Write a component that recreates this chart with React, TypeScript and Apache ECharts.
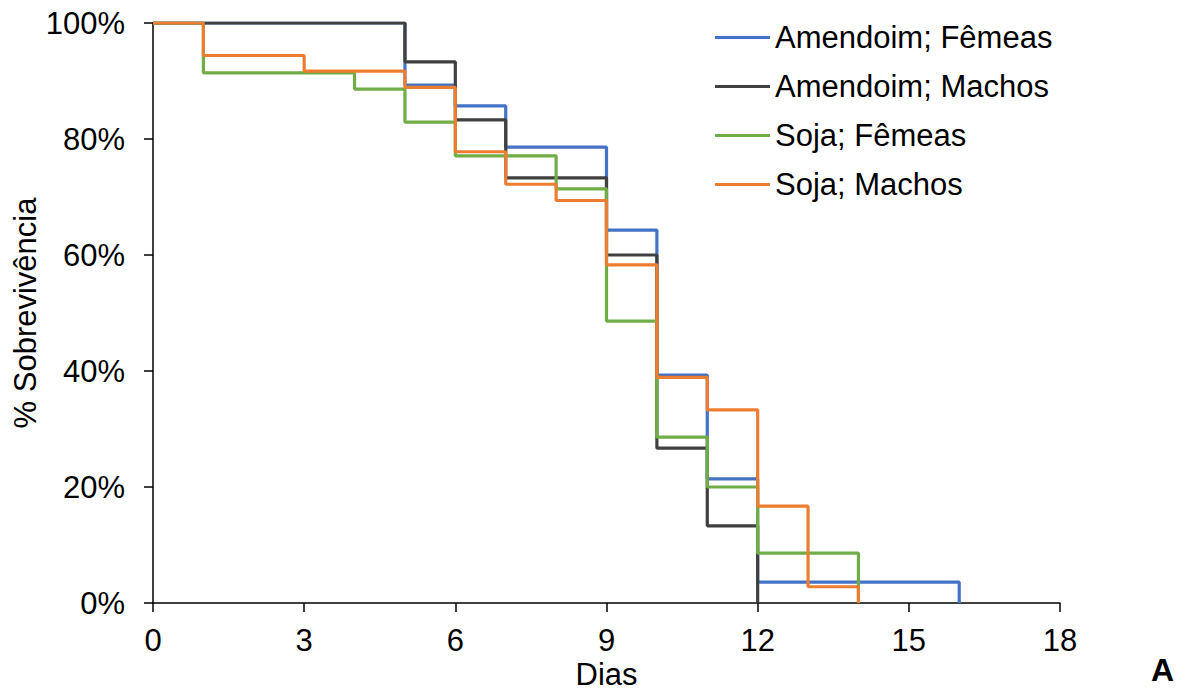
import React, { useEffect, useRef } from "react";
import * as echarts from "echarts";

const seriesNames = ["Amendoim; Fêmeas", "Amendoim; Machos", "Soja; Fêmeas", "Soja; Machos"];
const seriesColors = ["#4472C4", "#404040", "#70AD47", "#ED7D31"];

const amendoimFemeasDays = [0, 5, 6, 7, 9, 10, 11, 12, 16];
const amendoimFemeasValues = [100, 89.3, 85.7, 78.6, 64.3, 39.3, 21.4, 3.6, 0];

const amendoimMachosDays = [0, 5, 6, 7, 9, 10, 11, 12];
const amendoimMachosValues = [100, 93.3, 83.3, 73.3, 60, 26.7, 13.3, 0];

const sojaFemeasDays = [0, 1, 4, 5, 6, 8, 9, 10, 11, 12, 14];
const sojaFemeasValues = [100, 91.4, 88.6, 82.9, 77.1, 71.4, 48.6, 28.6, 20, 8.6, 0];

const sojaMachosDays = [0, 1, 3, 5, 6, 7, 8, 9, 10, 11, 12, 13, 14];
const sojaMachosValues = [100, 94.4, 91.7, 88.9, 77.8, 72.2, 69.4, 58.3, 38.9, 33.3, 16.7, 2.8, 0];

const xTicks = [0, 3, 6, 9, 12, 15, 18];
const yTicks = [0, 20, 40, 60, 80, 100];

const FONT = "'Liberation Sans', Arial, sans-serif";

export default function App() {
  const ref = useRef<HTMLDivElement>(null);
  useEffect(() => {
    if (!ref.current) return;
    const chart = echarts.init(ref.current, undefined, { renderer: "svg" });
    const allDays = [amendoimFemeasDays, amendoimMachosDays, sojaFemeasDays, sojaMachosDays];
    const allValues = [amendoimFemeasValues, amendoimMachosValues, sojaFemeasValues, sojaMachosValues];
    chart.setOption({
      animation: false,
      backgroundColor: "#ffffff",
      textStyle: { fontFamily: FONT },
      grid: { left: 153, right: 126, top: 23, bottom: 88, containLabel: false, outerBoundsMode: "none" },
      legend: {
        orient: "vertical",
        left: 710,
        top: 17,
        itemWidth: 55,
        itemHeight: 3,
        itemGap: 18,
        icon: "rect",
        data: seriesNames,
        textStyle: { fontSize: 31, color: "#000", fontFamily: FONT, lineHeight: 31 },
      },
      xAxis: {
        type: "value",
        min: xTicks[0],
        max: xTicks[xTicks.length - 1],
        interval: 3,
        name: "Dias",
        nameLocation: "middle",
        nameGap: 56,
        nameMoveOverlap: false,
        nameTextStyle: { fontSize: 31, color: "#000", fontFamily: FONT, lineHeight: 31 },
        axisLine: { lineStyle: { color: "#000", width: 1.5 } },
        axisTick: { show: true, inside: false, length: 9, lineStyle: { color: "#000", width: 1.5 } },
        axisLabel: { fontSize: 31, color: "#000", margin: 22, fontFamily: FONT },
        splitLine: { show: false },
      },
      yAxis: {
        type: "value",
        min: yTicks[0],
        max: yTicks[yTicks.length - 1],
        interval: 20,
        name: "% Sobrevivência",
        nameLocation: "middle",
        nameGap: 112,
        nameMoveOverlap: false,
        nameTextStyle: { fontSize: 31, color: "#000", fontFamily: FONT },
        axisLine: { show: true, lineStyle: { color: "#000", width: 1.5 } },
        axisTick: { show: true, inside: false, length: 9, lineStyle: { color: "#000", width: 1.5 } },
        axisLabel: { fontSize: 31, color: "#000", margin: 28, formatter: "{value}%", fontFamily: FONT },
        splitLine: { show: false },
      },
      series: seriesNames.map((name, i) => ({
        name,
        type: "line",
        step: "end",
        symbol: "none",
        color: seriesColors[i],
        lineStyle: { width: 3.2, color: seriesColors[i] },
        itemStyle: { color: seriesColors[i] },
        data: allDays[i].map((d, j) => [d, allValues[i][j]]),
      })),
      graphic: [
        {
          type: "text",
          left: 1151,
          top: 654,
          style: { text: "A", fontSize: 32, fontWeight: "bold", fill: "#000", fontFamily: FONT },
        },
      ],
    });
    return () => chart.dispose();
  }, []);
  return (
    <div
      ref={ref}
      style={{ position: "fixed", left: 0, top: 0, width: 1186, height: 691, background: "#fff" }}
    />
  );
}
